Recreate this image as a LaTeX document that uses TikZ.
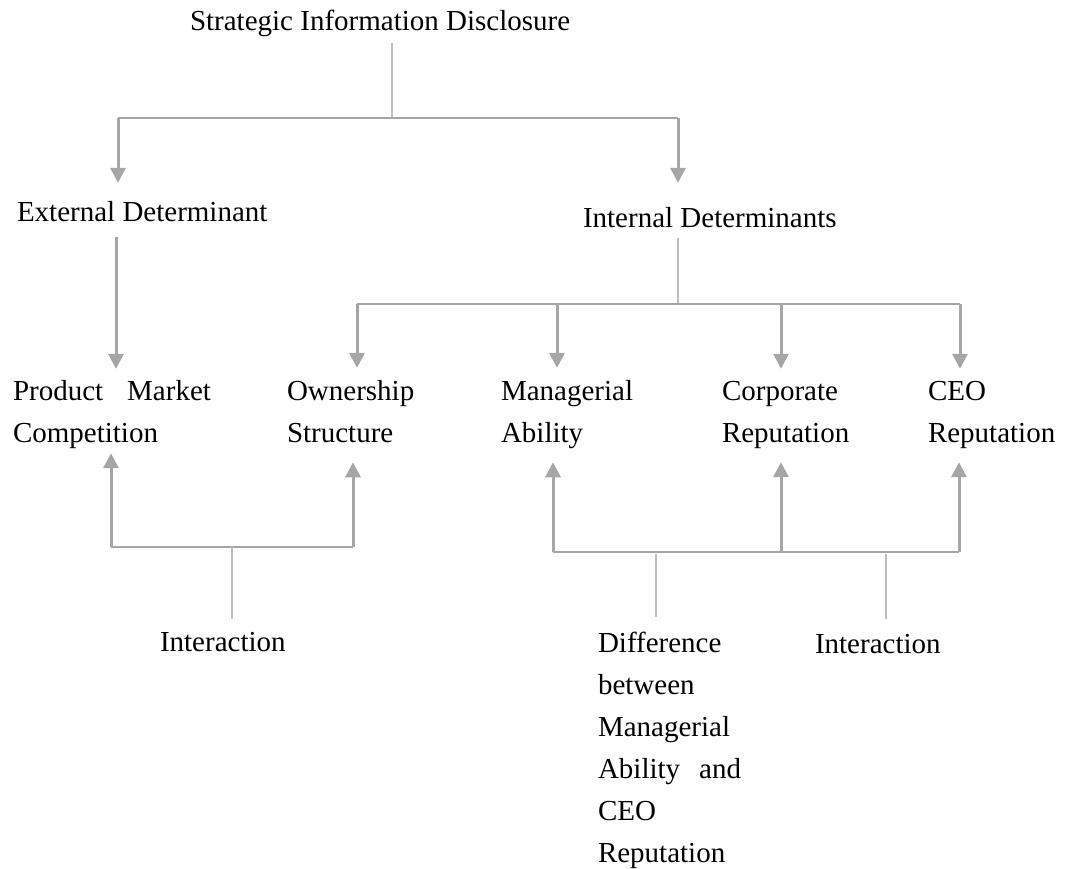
\documentclass[tikz,border=0pt]{standalone}
\usepackage{fontspec}
\setmainfont{Liberation Serif}
\usepackage{tikz}
\usetikzlibrary{arrows.meta,positioning}
\definecolor{linkgray}{RGB}{166,166,166}
\definecolor{feedgray}{RGB}{190,190,190}
\tikzset{
	lbl/.style    = {inner sep=0pt, outer sep=0pt, anchor=base west, align=left},
	link/.style   = {draw=linkgray, line width=2pt},
	feeder/.style = {draw=feedgray, line width=1.5pt},
	arr/.style    = {draw=linkgray, line width=3pt, -{Triangle[length=15pt,width=15pt]}},
}

\begin{document}
\begin{tikzpicture}[x=1pt, y=-1pt, font=\fontsize{29}{42}\selectfont]
	\useasboundingbox (0,0) rectangle (1072,869);
	% labels (multi-line ones sit on their last line)
	\node[lbl] (title) at (190,31) {Strategic Information Disclosure};
	\node[lbl] (ext) at (17,222) {External Determinant};
	\node[lbl] (int) at (583,228) {Internal Determinants};
	\node[lbl] (pmc) at (13,442) {Product\hspace{24pt}Market\\Competition};
	\node[lbl] (os) at (287,442) {Ownership\\Structure};
	\node[lbl] (ma) at (501,442) {Managerial\\Ability};
	\node[lbl] (cr) at (722,442) {Corporate\\Reputation};
	\node[lbl] (ceo) at (928,442) {CEO\\Reputation};
	\node[lbl] (inter1) at (160,651) {Interaction};
	\node[lbl] (diff) at (598,862) {Difference\\between\\Managerial\\Ability\hspace{19pt}and\\CEO\\Reputation};
	\node[lbl] (inter2) at (815,653) {Interaction};
	% junctions
	\coordinate (cT) at (392,118);
	\coordinate (cE) at (118,118);
	\coordinate (cI) at (678,118);
	\coordinate (xE) at (116,0);
	\coordinate (cJ) at (678,304);
	\coordinate (r1) at (357,304);
	\coordinate (r2) at (557,304);
	\coordinate (r3) at (781,304);
	\coordinate (r4) at (960,304);
	\coordinate (b1) at (111,547);
	\coordinate (bm) at (232,547);
	\coordinate (b2) at (353,547);
	\coordinate (d1) at (553,552);
	\coordinate (dm1) at (656,552);
	\coordinate (d2) at (781,552);
	\coordinate (dm2) at (886,552);
	\coordinate (d3) at (959,552);
	% top split
	\draw[feeder, shorten <=6pt] (title.south -| cT) -- (cT);
	\draw[link] (cE) -- (cI);
	\draw[arr, shorten >=19pt] (cE) -- (cE |- ext.north);
	\draw[arr, shorten >=25pt] (cI) -- (cI |- int.north);
	% external side
	\draw[arr, shorten <=15pt, shorten >=11pt] (ext.south -| xE) -- (pmc.north -| xE);
	% internal side
	\draw[feeder, shorten <=10pt] (int.south -| cJ) -- (cJ);
	\draw[link] (r1) -- (r4);
	\foreach \c/\n in {r1/os, r2/ma, r3/cr, r4/ceo}
		\draw[arr, shorten >=12pt] (\c) -- (\c |- \n.north);
	% interaction, left
	\draw[link] (b1) -- (b2);
	\draw[arr, shorten >=5pt] (b1) -- (b1 |- pmc.south);
	\draw[arr, shorten >=20pt] (b2) -- (b2 |- os.south);
	\draw[feeder, shorten >=13pt] (bm) -- (bm |- inter1.north);
	% interaction and difference, right
	\draw[link] (d1) -- (d3);
	\foreach \c/\n in {d1/ma, d2/cr, d3/ceo}
		\draw[arr, shorten >=14pt] (\c) -- (\c |- \n.south);
	\draw[feeder, shorten <=2pt, shorten >=15pt] (dm1) -- (dm1 |- diff.north);
	\draw[feeder, shorten <=2pt, shorten >=15pt] (dm2) -- (dm2 |- inter2.north);
\end{tikzpicture}
\end{document}
